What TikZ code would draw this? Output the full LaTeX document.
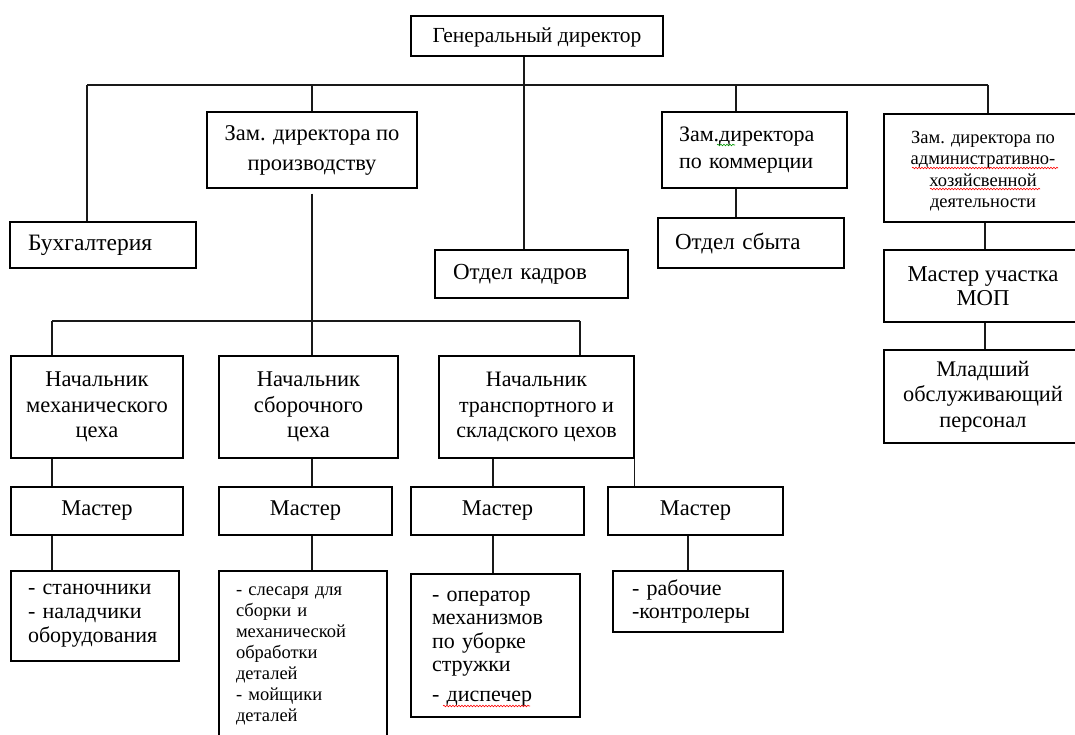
\documentclass[tikz,border=0pt]{standalone}
\usepackage{fontspec}
\setmainfont{Liberation Serif}
\usetikzlibrary{decorations.pathmorphing}
\newcommand\myfs[2]{\fontsize{#1}{#2}\selectfont}
\begin{document}
\begin{tikzpicture}[x=1pt,y=-1pt,
  box/.style={draw=black, line width=1.5pt, rectangle, inner sep=0pt, align=center},
  lbox/.style={box, align=left},
  conn/.style={draw=black!90, line width=1.4pt},
  squig/.style={line width=0.6pt, decorate, decoration={snake, amplitude=0.8pt, segment length=3pt}}]
\useasboundingbox[fill=white] (0,0) rectangle (1075,735);

% top level
\node[box, minimum width=252pt, minimum height=40pt, font=\myfs{21.5}{24}] (gd) at (537,36) {\rule{0pt}{17pt}Генеральный директор};
\node[lbox, minimum width=186pt, minimum height=46pt, text width=150pt, font=\myfs{23.5}{26}] (buh) at (103,245) {Бухгалтерия};
\node[box, minimum width=210pt, minimum height=76pt, font=\myfs{22.5}{30}] (zprod) at (312,150) {Зам. директора по\\производству};
\node[lbox, minimum width=193pt, minimum height=48pt, text width=157pt, font=\myfs{23}{26}] (kadr) at (531.5,274) {Отдел кадров};
\node[lbox, minimum width=185pt, minimum height=76pt, text width=151pt, font=\myfs{22}{27}] (zkom) at (754.5,150) {Зам.директора\\по коммерции};
\node[lbox, minimum width=186pt, minimum height=50pt, text width=152pt, font=\myfs{23}{26}] (sbyt) at (751,243) {Отдел сбыта};
\node[box, minimum width=198pt, minimum height=108pt, font=\myfs{18.5}{21.5}] (zahd) at (983,168) {\rule{0pt}{19pt}Зам. директора по\\административно-\\хозяйсвенной\\деятельности};
\node[box, minimum width=198pt, minimum height=72pt, font=\myfs{22.7}{24}] (mop) at (983,286) {Мастер участка\\МОП};
\node[box, minimum width=198pt, minimum height=93pt, font=\myfs{22.3}{25.5}] (mlad) at (983,396.5) {Младший\\обслуживающий\\персонал};

% chiefs
\node[box, minimum width=172pt, minimum height=102pt, font=\myfs{22.5}{25.5}] (nmech) at (97,407) {Начальник\\механического\\цеха};
\node[box, minimum width=179pt, minimum height=102pt, font=\myfs{22.5}{25.5}] (nsbor) at (308.5,407) {Начальник\\сборочного\\цеха};
\node[box, minimum width=195pt, minimum height=102pt, font=\myfs{22}{25.5}] (ntrans) at (536.5,407) {Начальник\\транспортного и\\складского цехов};

% masters
\node[box, minimum width=172pt, minimum height=48pt, font=\myfs{22.5}{25}] (m1) at (97,511) {Мастер};
\node[box, minimum width=173pt, minimum height=48pt, font=\myfs{22.5}{25}] (m2) at (305.5,511) {Мастер};
\node[box, minimum width=173pt, minimum height=48pt, font=\myfs{22.5}{25}] (m3) at (497.5,511) {Мастер};
\node[box, minimum width=175pt, minimum height=48pt, font=\myfs{22.5}{25}] (m4) at (695.5,511) {Мастер};

% workers
\node[lbox, minimum width=168pt, minimum height=90pt, text width=134pt, font=\myfs{22}{24}] (stan) at (95,616) {- станочники\\- наладчики\\оборудования};
\node[lbox, minimum width=168pt, minimum height=170pt, text width=134pt, font=\myfs{18.5}{21}] (sles) at (303,656) {- слесаря для\\сборки и\\механической\\обработки\\деталей\\- мойщики\\деталей};
\node[lbox, minimum width=169pt, minimum height=143pt, text width=127pt, font=\myfs{22}{23.5}] (oper) at (495.5,645.5) {\rule{0pt}{16pt}- оператор\\механизмов\\по уборке\\стружки\\[6pt]- диспечер};
\node[lbox, minimum width=170pt, minimum height=61pt, text width=132pt, font=\myfs{22}{23}] (rab) at (698,601.5) {- рабочие\\-контролеры};

% column coordinates
\coordinate (busL) at (87,85);
\coordinate (busR) at (988,85);
\coordinate (lbL) at (52,321);
\coordinate (lbR) at (580,321);
\coordinate (c312) at (312,0);
\coordinate (c493) at (493,0);
\coordinate (c524) at (524,0);
\coordinate (c688) at (688,0);
\coordinate (c736) at (736,0);
\coordinate (c985) at (985,0);

% connectors, top
\draw[conn] (busL) -- (busR);
\draw[conn] (c524 |- gd.south) -- (c524 |- kadr.north);
\draw[conn] (busL) -- (busL |- buh.north);
\draw[conn] (zprod.north |- busL) -- (zprod.north);
\draw[conn] (c736 |- busL) -- (c736 |- zkom.north);
\draw[conn] (c736 |- zkom.south) -- (c736 |- sbyt.north);
\draw[conn] (busR) -- (busR |- zahd.north);
\draw[conn] (c985 |- zahd.south) -- (c985 |- mop.north);
\draw[conn] (c985 |- mop.south) -- (c985 |- mlad.north);

% production branch
\draw[conn] ([yshift=-5pt]zprod.south) -- (zprod.south |- nsbor.north);
\draw[conn] (lbL) -- (lbR);
\draw[conn] (lbL) -- (lbL |- nmech.north);
\draw[conn] (lbR) -- (lbR |- ntrans.north);
\draw[conn] (lbL |- nmech.south) -- (lbL |- m1.north);
\draw[conn] (lbL |- m1.south) -- (lbL |- stan.north);
\draw[conn] (c312 |- nsbor.south) -- (c312 |- m2.north);
\draw[conn] (c312 |- m2.south) -- (c312 |- sles.north);
\draw[conn] (c493 |- ntrans.south) -- (c493 |- m3.north);
\draw[conn] (c493 |- m3.south) -- (c493 |- oper.north);
\draw[conn] (ntrans.south east) -- (ntrans.south east |- m4.north);
\draw[conn] (c688 |- m4.south) -- (c688 |- rab.north);

% spelling marks
\draw[squig, red] (912,168) -- (1058,168);
\draw[squig, red] (930,189) -- (1040,189);
\draw[squig, red] (443,706) -- (530,706);
\draw[squig, green!60!black] (717,145) -- (735,145);
\end{tikzpicture}
\end{document}
